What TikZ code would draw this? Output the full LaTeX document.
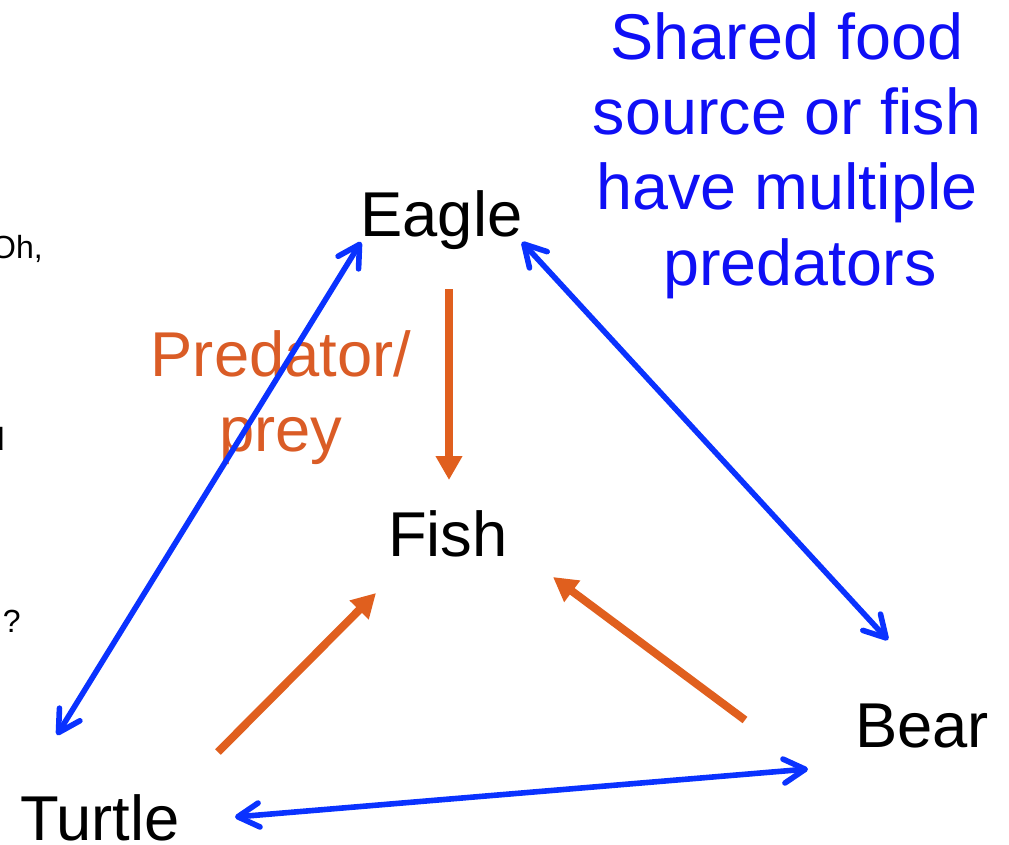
\documentclass[tikz,border=0pt]{standalone}
\usepackage{fontspec}
\setmainfont{Liberation Sans}
\usetikzlibrary{arrows.meta,calc}
\definecolor{arrblue}{RGB}{10,50,255}
\definecolor{txtblue}{RGB}{15,15,245}
\definecolor{arrorange}{RGB}{224,95,30}
\definecolor{txtorange}{RGB}{218,92,38}
\tikzset{
  big/.style={font=\fontsize{47.5}{56.5}\selectfont, inner sep=0pt, anchor=base},
  small/.style={font=\fontsize{24}{28}\selectfont, inner sep=0pt},
  bluelink/.style={draw=arrblue, line width=4.2pt, line cap=round,
    {Straight Barb[length=16pt,width=18pt,line width=4.2pt,round]}-{Straight Barb[length=16pt,width=18pt,line width=4.2pt,round]}},
  orangelink/.style={draw=arrorange, line width=6pt,
    -{Triangle[length=18pt,width=19pt]}}
}
\begin{document}
\begin{tikzpicture}[x=0.75pt,y=-0.75pt]
\useasboundingbox (0,0) rectangle (1009,844);
\clip (0,0) rectangle (1009,844);
% nodes
\node[big] (eagle) at (441.5,236) {Eagle};
\node[big] (fish) at (448,556) {Fish};
\node[big] (turtle) at (100,840) {Turtle};
\node[big] (bear) at (922,747) {Bear};
\node[big, font=\fontsize{48.5}{56.5}\selectfont, text=txtblue, align=center, anchor=north] (shared) at (787,12)
  {Shared food\\source or fish\\have multiple\\\hspace*{0.4em}predators};
\node[big, text=txtorange, align=center, anchor=north] (pp) at (281,330)
  {Predator/\\prey};
% left-edge fragments
\node[small, anchor=base east] (oh) at (43,258) {Oh,};
\node[small, anchor=base east] (dd) at (5,450) {d};
\node[small, anchor=base east] (qq) at (21,632) {?};
% connectors
\draw[bluelink] ($(eagle.base)+(-80.5,6)$) -- ($(turtle.base)+(-43,-105)$);
\draw[bluelink] ($(eagle.base)+(80.5,6)$) -- ($(bear.base)+(-34,-107)$);
\draw[bluelink] ($(turtle.base)+(135,-23)$) -- ($(bear.base)+(-114,22)$);
\draw[orangelink] ($(eagle.base)+(7.5,53)$) -- ($(fish.base)+(1,-76)$);
\draw[orangelink] ($(turtle.base)+(118,-88)$) -- ($(fish.base)+(-72,37)$);
\draw[orangelink] ($(bear.base)+(-177,-27)$) -- ($(fish.base)+(105,21)$);
\end{tikzpicture}
\end{document}
